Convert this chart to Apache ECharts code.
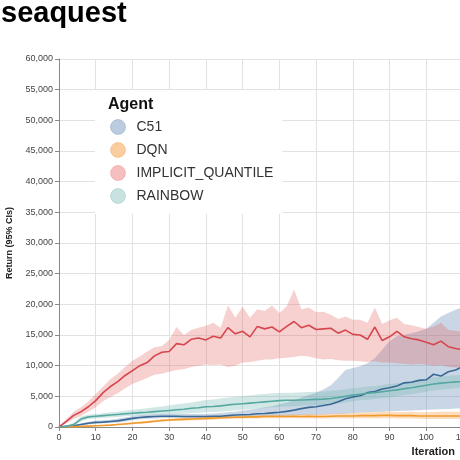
<!DOCTYPE html>
<html>
<head>
<meta charset="utf-8">
<title>seaquest</title>
<script src="https://cdn.jsdelivr.net/npm/echarts@6/dist/echarts.min.js"></script>
<style>
	html, body { margin: 0; padding: 0; background: #fff; }
	#chart { width: 460px; height: 460px; }
</style>
</head>
<body>
<div id="chart"></div>
<script>
'use strict';

var iterations = [0, 2, 4, 6, 8, 10, 12, 14, 16, 18, 20, 22, 24, 26, 28, 30, 32, 34, 36, 38,
	40, 42, 44, 46, 48, 50, 52, 54, 56, 58, 60, 62, 64, 66, 68, 70, 72, 74, 76, 78,
	80, 82, 84, 86, 88, 90, 92, 94, 96, 98, 100, 102, 104, 106, 108, 110];

var agents = ['C51', 'DQN', 'IMPLICIT_QUANTILE', 'RAINBOW'];

var c51Mean = [0, 100, 200, 400, 600, 750, 800, 900, 1000, 1200, 1400, 1550, 1650, 1700, 1750, 1750, 1750, 1700, 1700, 1700,
	1700, 1750, 1750, 1850, 1950, 2000, 2050, 2150, 2200, 2300, 2400, 2550, 2750, 3000, 3200, 3300, 3500, 3700, 4100, 4600,
	4900, 5100, 5600, 5800, 6200, 6400, 6700, 7200, 7300, 7600, 7700, 8600, 8300, 9000, 9300, 9900];
var c51Upper = [0, 150, 300, 600, 850, 1000, 1100, 1200, 1350, 1550, 1750, 1900, 2000, 2050, 2100, 2100, 2100, 2100, 2100, 2100,
	2100, 2200, 2300, 2400, 2500, 2700, 2800, 3000, 3200, 3400, 3700, 4000, 4400, 4800, 5200, 5600, 6100, 6800, 8000, 9300,
	9600, 9900, 10400, 11200, 12600, 14000, 14800, 15000, 15300, 15600, 16000, 17000, 18000, 18600, 19100, 19600];
var c51Lower = [0, 50, 100, 250, 400, 550, 600, 650, 750, 900, 1100, 1250, 1350, 1400, 1450, 1450, 1450, 1400, 1400, 1400,
	1400, 1450, 1450, 1500, 1550, 1600, 1600, 1650, 1700, 1750, 1800, 1850, 1900, 1950, 2000, 2000, 2050, 2100, 2150, 2200,
	2300, 2350, 2400, 2450, 2500, 2550, 2600, 2650, 2700, 2750, 2800, 2850, 2900, 2950, 3000, 3050];

var dqnMean = [0, 30, 60, 100, 150, 200, 250, 300, 400, 500, 600, 700, 800, 950, 1050, 1150, 1200, 1250, 1300, 1350,
	1400, 1450, 1500, 1550, 1600, 1600, 1650, 1650, 1700, 1700, 1700, 1700, 1750, 1700, 1750, 1700, 1700, 1750, 1800, 1800,
	1800, 1850, 1850, 1850, 1900, 1900, 1850, 1850, 1850, 1800, 1800, 1800, 1800, 1800, 1800, 1800];
var dqnUpper = [0, 50, 100, 150, 200, 280, 350, 420, 530, 650, 780, 900, 1000, 1150, 1250, 1350, 1420, 1480, 1530, 1600,
	1650, 1700, 1750, 1800, 1850, 1870, 1920, 1930, 1980, 2000, 2000, 2020, 2080, 2050, 2100, 2080, 2100, 2180, 2250, 2280,
	2300, 2380, 2400, 2420, 2500, 2500, 2450, 2450, 2480, 2420, 2420, 2450, 2480, 2500, 2500, 2500];
var dqnLower = [0, 10, 30, 60, 100, 130, 170, 200, 280, 360, 440, 520, 610, 750, 850, 950, 1000, 1040, 1080, 1120,
	1160, 1200, 1250, 1300, 1350, 1350, 1400, 1400, 1430, 1430, 1430, 1420, 1450, 1400, 1430, 1380, 1380, 1400, 1420, 1400,
	1400, 1420, 1420, 1400, 1430, 1420, 1380, 1380, 1370, 1330, 1320, 1320, 1300, 1300, 1300, 1300];

var iqMean = [0, 900, 1900, 2500, 3300, 4300, 5600, 6600, 7400, 8400, 9200, 10000, 10500, 11600, 12200, 12300, 13600, 13400, 14300, 14500,
	14200, 14800, 14500, 16200, 15200, 15600, 14700, 16400, 16000, 16300, 15500, 16400, 17200, 16200, 16600, 15900, 16000, 16100, 15300, 15800,
	15100, 15000, 14300, 16300, 14100, 14700, 15600, 14700, 14400, 14200, 13800, 13400, 14000, 13100, 12800, 12600];
var iqUpper = [0, 1300, 2500, 3200, 4200, 5400, 6600, 7800, 8700, 9800, 10800, 11500, 12300, 13000, 13200, 14200, 16300, 15000, 15800, 16200,
	16500, 17000, 16200, 19800, 17800, 19600, 17800, 19200, 18900, 19800, 18600, 19700, 22400, 19200, 19500, 18700, 18800, 18300, 17600, 18000,
	17500, 17500, 17000, 19500, 16800, 17400, 17800, 16800, 16600, 16300, 16000, 16400, 17000, 15800, 15700, 15500];
var iqLower = [0, 600, 1300, 1800, 2500, 3200, 4200, 4900, 5500, 6300, 7000, 7500, 8000, 8500, 8700, 9000, 9300, 9400, 9800, 10000,
	10200, 10100, 10200, 9800, 10000, 10500, 10600, 10800, 11000, 11000, 11200, 11300, 11400, 11600, 11500, 11200, 11000, 11100, 10900, 10800,
	10800, 10700, 10600, 10700, 10500, 10500, 10400, 10300, 10200, 10300, 10200, 10000, 10100, 9800, 9700, 9600];

var rainbowMean = [0, 100, 400, 1300, 1650, 1750, 1850, 1950, 2050, 2150, 2250, 2350, 2400, 2500, 2600, 2700, 2800, 2900, 3050, 3150,
	3300, 3350, 3450, 3600, 3700, 3800, 3900, 4000, 4100, 4200, 4300, 4350, 4350, 4400, 4450, 4500, 4550, 4650, 4800, 5000,
	5200, 5350, 5500, 5600, 5750, 5900, 6050, 6250, 6400, 6600, 6800, 7000, 7150, 7250, 7350, 7400];
var rainbowUpper = [0, 200, 700, 1700, 2000, 2100, 2250, 2400, 2500, 2650, 2800, 2950, 3050, 3200, 3350, 3500, 3700, 3850, 4000, 4200,
	4400, 4500, 4650, 4800, 4950, 5050, 5150, 5300, 5400, 5500, 5550, 5600, 5600, 5650, 5700, 5750, 5800, 5900, 6000, 6150,
	6300, 6450, 6600, 6700, 6850, 7000, 7150, 7350, 7500, 7700, 7900, 8100, 8250, 8350, 8450, 8500];
var rainbowLower = [0, 50, 200, 900, 1300, 1400, 1500, 1550, 1650, 1750, 1800, 1850, 1900, 1950, 2000, 2050, 2100, 2150, 2250, 2300,
	2400, 2450, 2500, 2600, 2700, 2800, 2900, 3000, 3100, 3200, 3300, 3350, 3400, 3450, 3500, 3550, 3600, 3700, 3850, 4000,
	4200, 4350, 4450, 4550, 4700, 4850, 5000, 5200, 5350, 5550, 5750, 5950, 6100, 6200, 6300, 6350];

(function(window, undefined){

	var FONT = '"Liberation Sans", Arial, sans-serif';

	/* line, band and legend colours per agent */
	var palette = {
		'C51':               { line: '#3b6996', band: 'rgba(76,120,168,0.30)', dot: 'rgba(76,120,168,0.38)' },
		'DQN':               { line: '#f09a2c', band: 'rgba(245,133,24,0.28)', dot: 'rgba(245,133,24,0.42)' },
		'IMPLICIT_QUANTILE': { line: '#d6464d', band: 'rgba(228,87,86,0.28)', dot: 'rgba(228,87,86,0.38)' },
		'RAINBOW':           { line: '#55a8a1', band: 'rgba(114,183,178,0.32)', dot: 'rgba(114,183,178,0.40)' },
	};

	var bands = {
		'C51': [c51Lower, c51Upper],
		'DQN': [dqnLower, dqnUpper],
		'IMPLICIT_QUANTILE': [iqLower, iqUpper],
		'RAINBOW': [rainbowLower, rainbowUpper],
	};

	var means = {
		'C51': c51Mean,
		'DQN': dqnMean,
		'IMPLICIT_QUANTILE': iqMean,
		'RAINBOW': rainbowMean,
	};

	/**
	 * 置信区间: lower 透明 + (upper-lower) 堆叠填充
	 * @param {String} name
	 * @return {Array}
	 */
	function createBand(name){
		var lower = bands[name][0],
				upper = bands[name][1],
				diff = upper.map(function(v, i){ return v - lower[i]; }),
				common = {
					type: 'line',
					stack: 'band_' + name,
					symbol: 'none',
					silent: true,
					lineStyle: { width: 0, opacity: 0 },
					z: 1,
				};

		return [
			Object.assign({ name: name + '_lo', data: lower }, common),
			Object.assign({ name: name + '_hi', data: diff,
				areaStyle: { color: palette[name].band, opacity: 1 } }, common),
		];
	}

	function createMean(name){
		return {
			name: name,
			type: 'line',
			data: means[name],
			symbol: 'none',
			silent: true,
			lineStyle: { color: palette[name].line, width: 1.6 },
			itemStyle: { color: palette[name].line },
			z: 3,
		};
	}

	var series = [];
	agents.forEach(function(n){ series = series.concat(createBand(n)); });
	agents.forEach(function(n){ series.push(createMean(n)); });

	var option = {
		animation: false,
		textStyle: { fontFamily: FONT },
		title: [
			{ text: 'seaquest', left: 1, top: -1, padding: 0,
				textStyle: { fontFamily: FONT, fontSize: 29, fontWeight: 'bold', color: '#000' } },
			{ text: 'Agent', left: 108, top: 97, padding: 0, z: 8,
				textStyle: { fontFamily: FONT, fontSize: 16, fontWeight: 'bold', color: '#111' } },
		],
		legend: {
			orient: 'vertical',
			left: 95,
			top: 90,
			padding: [29, 9, 10, 15],
			backgroundColor: '#fff',
			itemWidth: 15,
			itemHeight: 15,
			itemGap: 7,
			selectedMode: false,
			icon: 'circle',
			textStyle: { fontFamily: FONT, fontSize: 14, color: '#333', padding: [0, 0, 0, 6] },
			data: agents.map(function(n){
				return { name: n, icon: 'circle',
					itemStyle: { color: palette[n].dot, borderColor: palette[n].band, borderWidth: 1 } };
			}),
		},
		grid: { left: 59, top: 59, right: -3, bottom: 33, containLabel: false, outerBoundsMode: 'none' },
		xAxis: {
			type: 'category',
			data: iterations,
			boundaryGap: false,
			name: 'Iteration',
			nameLocation: 'end',
			nameGap: -8,
			nameTextStyle: { fontFamily: FONT, fontSize: 11, fontWeight: 'bold', color: '#222',
				align: 'right', verticalAlign: 'top', padding: [19, 0, 0, 0] },
			axisLine: { show: true, lineStyle: { color: '#888', width: 1 } },
			axisTick: { show: true, interval: 4, length: 4, lineStyle: { color: '#888' } },
			axisLabel: { interval: 4, fontSize: 9, color: '#444', margin: 6 },
			splitLine: { show: true, interval: 4, lineStyle: { color: '#e2e2e2', width: 1 } },
		},
		yAxis: {
			type: 'value',
			min: 0,
			max: 60000,
			interval: 5000,
			name: 'Return (95% CIs)',
			nameLocation: 'middle',
			nameGap: 45,
			nameTextStyle: { fontFamily: FONT, fontSize: 9, fontWeight: 'bold', color: '#222' },
			axisLine: { show: true, lineStyle: { color: '#888', width: 1 } },
			axisTick: { show: true, length: 4, lineStyle: { color: '#888' } },
			axisLabel: {
				fontSize: 9,
				color: '#444',
				margin: 6,
				formatter: function(v){ return v.toLocaleString('en-US'); },
			},
			splitLine: { show: true, lineStyle: { color: '#e2e2e2', width: 1 } },
		},
		series: series,
	};

	echarts.init(document.getElementById('chart')).setOption(option);

})(typeof window !== 'undefined' ? window : this, undefined);
</script>
</body>
</html>
